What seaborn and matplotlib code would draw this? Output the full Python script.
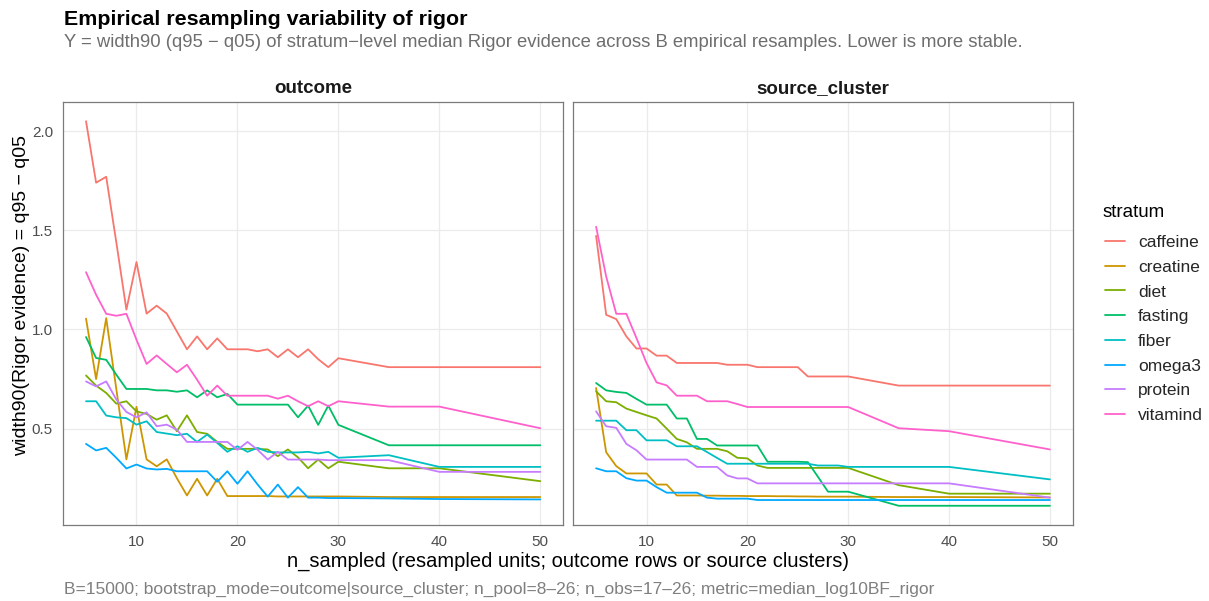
import numpy as np
import pandas as pd
import matplotlib
matplotlib.use("Agg")
import matplotlib.pyplot as plt
import seaborn as sns

# ---------------- data ----------------
n_sampled = [5, 6, 7, 8, 9, 10, 11, 12, 13, 14, 15, 16, 17, 18, 19, 20,
             21, 22, 23, 24, 25, 26, 27, 28, 29, 30, 35, 40, 50]

strata = ["caffeine", "creatine", "diet", "fasting", "fiber", "omega3", "protein", "vitamind"]
facets = ["outcome", "source_cluster"]

# outcome facet
caffeine_out = [2.05, 1.74, 1.77, 1.44, 1.10, 1.34, 1.08, 1.12, 1.08, 0.99, 0.90, 0.965, 0.90, 0.955, 0.90, 0.90,
                0.90, 0.89, 0.90, 0.86, 0.90, 0.86, 0.90, 0.85, 0.81, 0.855, 0.81, 0.81, 0.81]
creatine_out = [1.055, 0.75, 1.057, 0.70, 0.345, 0.61, 0.345, 0.31, 0.345, 0.25, 0.163, 0.247, 0.163, 0.247, 0.16, 0.16,
                0.16, 0.16, 0.16, 0.158, 0.158, 0.158, 0.158, 0.158, 0.158, 0.158, 0.155, 0.155, 0.155]
diet_out = [0.768, 0.717, 0.68, 0.626, 0.638, 0.587, 0.574, 0.545, 0.567, 0.487, 0.567, 0.483, 0.474, 0.433, 0.398, 0.398,
            0.398, 0.398, 0.395, 0.361, 0.395, 0.355, 0.30, 0.344, 0.30, 0.333, 0.30, 0.30, 0.235]
fasting_out = [0.962, 0.856, 0.847, 0.772, 0.70, 0.70, 0.70, 0.693, 0.693, 0.686, 0.693, 0.658, 0.693, 0.658, 0.675, 0.621,
               0.621, 0.621, 0.621, 0.621, 0.621, 0.557, 0.616, 0.519, 0.616, 0.519, 0.416, 0.416, 0.416]
fiber_out = [0.638, 0.638, 0.566, 0.557, 0.553, 0.52, 0.537, 0.483, 0.475, 0.467, 0.474, 0.433, 0.47, 0.428, 0.383, 0.411,
             0.383, 0.403, 0.383, 0.38, 0.38, 0.38, 0.383, 0.375, 0.383, 0.353, 0.366, 0.307, 0.307]
omega3_out = [0.423, 0.39, 0.403, 0.353, 0.299, 0.319, 0.299, 0.294, 0.297, 0.285, 0.285, 0.285, 0.285, 0.232, 0.285, 0.222,
              0.285, 0.218, 0.157, 0.218, 0.152, 0.205, 0.152, 0.152, 0.15, 0.15, 0.148, 0.145, 0.143]
protein_out = [0.738, 0.713, 0.738, 0.647, 0.584, 0.557, 0.582, 0.512, 0.52, 0.495, 0.433, 0.433, 0.433, 0.433, 0.433, 0.393,
               0.433, 0.393, 0.344, 0.383, 0.344, 0.344, 0.344, 0.344, 0.341, 0.341, 0.341, 0.282, 0.282]
vitamind_out = [1.289, 1.175, 1.079, 1.069, 1.079, 0.948, 0.826, 0.869, 0.826, 0.784, 0.822, 0.747, 0.666, 0.717, 0.666, 0.666,
                0.666, 0.666, 0.666, 0.651, 0.666, 0.638, 0.613, 0.638, 0.613, 0.638, 0.611, 0.611, 0.502]

# source_cluster facet
caffeine_src = [1.472, 1.074, 1.052, 0.965, 0.904, 0.904, 0.868, 0.868, 0.831, 0.831, 0.831, 0.831, 0.831, 0.822, 0.822, 0.822,
                0.81, 0.81, 0.81, 0.81, 0.81, 0.763, 0.763, 0.763, 0.763, 0.763, 0.717, 0.717, 0.717]
creatine_src = [0.705, 0.381, 0.311, 0.274, 0.274, 0.274, 0.218, 0.218, 0.163, 0.163, 0.163, 0.162, 0.162, 0.161, 0.161, 0.16,
                0.16, 0.16, 0.159, 0.159, 0.158, 0.158, 0.157, 0.157, 0.157, 0.157, 0.155, 0.155, 0.153]
diet_src = [0.688, 0.638, 0.633, 0.601, 0.584, 0.567, 0.551, 0.50, 0.448, 0.431, 0.398, 0.398, 0.398, 0.386, 0.353, 0.35,
            0.314, 0.302, 0.302, 0.302, 0.302, 0.302, 0.302, 0.302, 0.302, 0.302, 0.215, 0.172, 0.172]
fasting_src = [0.73, 0.693, 0.685, 0.68, 0.65, 0.621, 0.621, 0.621, 0.551, 0.551, 0.448, 0.448, 0.415, 0.415, 0.415, 0.415,
               0.415, 0.333, 0.333, 0.333, 0.333, 0.331, 0.257, 0.182, 0.182, 0.182, 0.111, 0.111, 0.111]
fiber_src = [0.54, 0.54, 0.54, 0.492, 0.492, 0.441, 0.441, 0.441, 0.411, 0.411, 0.411, 0.382, 0.352, 0.323, 0.323, 0.323,
             0.323, 0.323, 0.323, 0.323, 0.323, 0.323, 0.314, 0.314, 0.314, 0.307, 0.307, 0.307, 0.244]
omega3_src = [0.30, 0.285, 0.285, 0.25, 0.238, 0.238, 0.205, 0.177, 0.177, 0.177, 0.177, 0.152, 0.147, 0.147, 0.147, 0.147,
              0.14, 0.14, 0.14, 0.14, 0.14, 0.14, 0.14, 0.14, 0.14, 0.14, 0.14, 0.14, 0.14]
protein_src = [0.587, 0.512, 0.504, 0.423, 0.391, 0.344, 0.344, 0.344, 0.344, 0.344, 0.307, 0.307, 0.307, 0.264, 0.249, 0.249,
               0.224, 0.224, 0.224, 0.224, 0.224, 0.224, 0.224, 0.224, 0.224, 0.224, 0.224, 0.224, 0.152]
vitamind_src = [1.518, 1.267, 1.079, 1.079, 0.957, 0.831, 0.733, 0.718, 0.666, 0.666, 0.666, 0.638, 0.638, 0.638, 0.624, 0.609,
                0.609, 0.609, 0.609, 0.609, 0.609, 0.609, 0.609, 0.609, 0.609, 0.609, 0.502, 0.487, 0.395]

colors = ["#F8766D", "#CD9600", "#7CAE00", "#00BE67", "#00BFC4", "#00A9FF", "#C77CFF", "#FF61CC"]

title = "Empirical resampling variability of rigor"
subtitle = ("Y = width90 (q95 \u2212 q05) of stratum\u2212level median Rigor evidence across B empirical "
            "resamples. Lower is more stable.")
xlabel = "n_sampled (resampled units; outcome rows or source clusters)"
ylabel = "width90(Rigor evidence) = q95 \u2212 q05"
legend_title = "stratum"
caption = ("B=15000; bootstrap_mode=outcome|source_cluster; n_pool=8\u201326; n_obs=17\u201326; "
           "metric=median_log10BF_rigor")
x_ticks = [10, 20, 30, 40, 50]
y_ticks = [0.5, 1.0, 1.5, 2.0]

series = {
    "outcome": [caffeine_out, creatine_out, diet_out, fasting_out, fiber_out, omega3_out, protein_out, vitamind_out],
    "source_cluster": [caffeine_src, creatine_src, diet_src, fasting_src, fiber_src, omega3_src, protein_src, vitamind_src],
}

rows = []
for f in facets:
    for s, vals in zip(strata, series[f]):
        for n, v in zip(n_sampled, vals):
            rows.append({"facet": f, "stratum": s, "n_sampled": n, "width90": v})
df = pd.DataFrame(rows)

# ---------------- style ----------------
sns.set_theme(style="white")
plt.rcParams["font.family"] = ["Liberation Sans", "DejaVu Sans"]

W, H = 1209, 601
fig = plt.figure(figsize=(W / 100, H / 100), dpi=100)

def fx(px):
    return px / W

def fy(py):
    return 1 - py / H

panel_top, panel_bot = 102, 525
panels = [(63.3, 563.0), (573.4, 1072.6)]

xmin, xmax = min(n_sampled), max(n_sampled)
xr = xmax - xmin
ymin, ymax = df["width90"].min(), df["width90"].max()
yr = ymax - ymin

axes = []
for i, (f, (l, r)) in enumerate(zip(facets, panels)):
    ax = fig.add_axes([fx(l), fy(panel_bot), (r - l) / W, (panel_bot - panel_top) / H])
    sub = df[df["facet"] == f]
    sns.lineplot(data=sub, x="n_sampled", y="width90", hue="stratum", hue_order=strata,
                 palette=colors, estimator=None, linewidth=1.3, ax=ax, legend=(i == 0))
    ax.set_xlim(xmin - 0.05 * xr, xmax + 0.05 * xr)
    ax.set_ylim(ymin - 0.05 * yr, ymax + 0.05 * yr)
    ax.set_xticks(x_ticks)
    ax.set_yticks(y_ticks)
    ax.set_yticklabels([f"{t:.1f}" for t in y_ticks] if i == 0 else [])
    ax.grid(True, color="#EBEBEB", linewidth=0.9)
    ax.set_axisbelow(True)
    for sp in ax.spines.values():
        sp.set_color("#7A7A7A")
        sp.set_linewidth(0.9)
        sp.set_visible(True)
    ax.tick_params(length=0, labelsize=11, colors="#4D4D4D", pad=7.5)
    ax.set_xlabel("")
    ax.set_ylabel("")
    ax.text(0.5, 1 + (panel_top - 93) / (panel_bot - panel_top), f, transform=ax.transAxes,
            ha="center", va="baseline", fontsize=13.5, fontweight="bold", color="#1A1A1A")
    axes.append(ax)

handles, labels = axes[0].get_legend_handles_labels()
axes[0].get_legend().remove()
leg = fig.legend(handles, labels, loc="upper left",
                 bbox_to_anchor=(fx(1105), fy(235)), frameon=False, fontsize=12.5,
                 handlelength=1.15, handletextpad=0.75, labelspacing=0.55,
                 borderpad=0, borderaxespad=0)
for h in leg.legend_handles:
    h.set_linewidth(1.3)
fig.text(fx(1103), fy(217), legend_title, fontsize=13.5, ha="left", va="baseline", color="#000000")

fig.text(fx(63.5), fy(25), title, fontsize=15.4, fontweight="bold", ha="left", va="baseline", color="#000000")
fig.text(fx(63.5), fy(46.7), subtitle, fontsize=13.3, ha="left", va="baseline", color="#6E6E6E")
fig.text(fx((panels[0][0] + panels[1][1]) / 2), fy(567), xlabel, fontsize=14.5, ha="center", va="baseline",
         color="#000000")
fig.text(fx(22), fy(296), ylabel, fontsize=14.0, ha="center", va="center", rotation=90, color="#000000")
fig.text(fx(63.5), fy(594), caption, fontsize=12.5, ha="left", va="baseline", color="#7F7F7F")

fig.savefig("out.png", dpi=100, facecolor="white")
